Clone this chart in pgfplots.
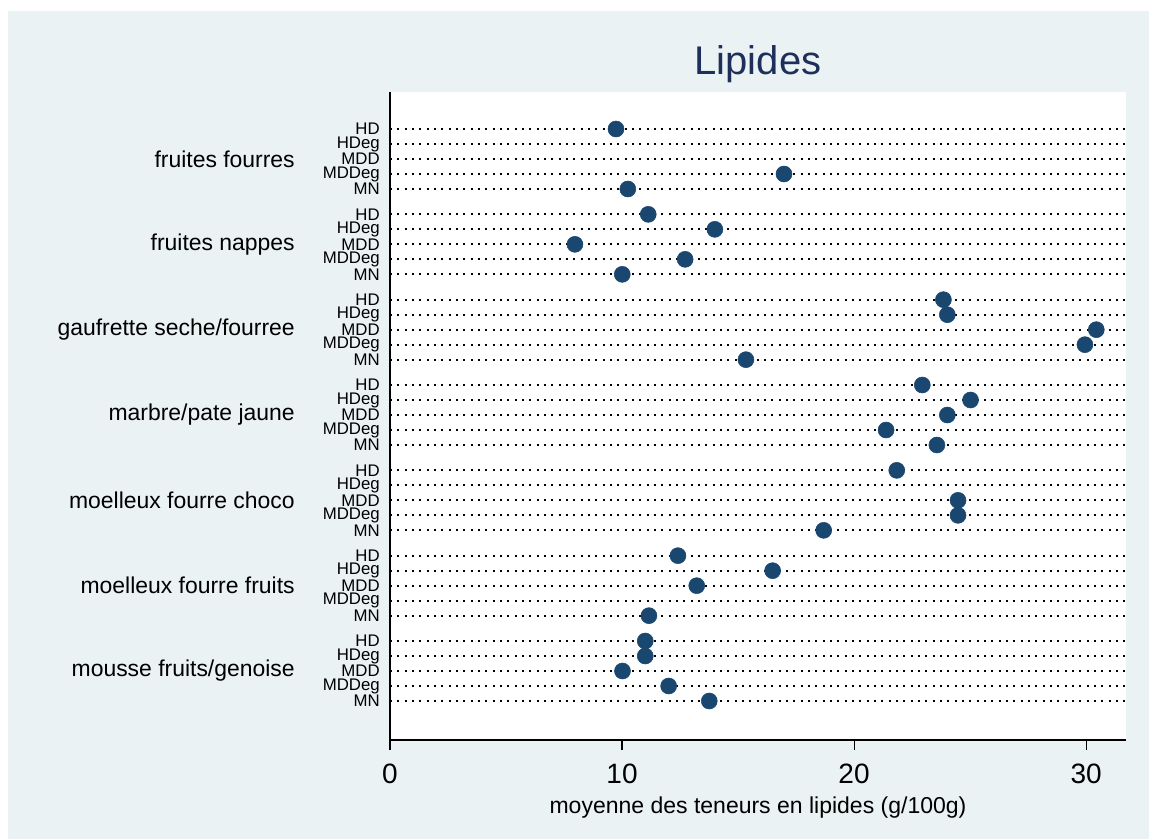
\documentclass[border=0pt]{standalone}
\usepackage{pgfplots}
\pgfplotsset{compat=1.18}
\usepackage{fontspec}
\setmainfont{Liberation Sans}
\definecolor{bgc}{HTML}{EAF2F3}
\definecolor{dotc}{HTML}{1A476F}
\definecolor{titc}{HTML}{1E2F5B}
\begin{document}
\begin{tikzpicture}
\fill[white] (-292.5pt,-74.25pt) rectangle (569.25pt,555pt);
\fill[bgc] (-286.5pt,-74.25pt) rectangle (569.25pt,546.75pt);
\begin{axis}[
  at={(0pt,0pt)}, anchor=south west,
  scale only axis, width=552pt, height=486pt,
  xmin=0, xmax=31.72, ymin=92, ymax=740, y dir=reverse,
  axis x line*=bottom, axis y line*=left,
  axis line style={-, black, line width=0.9pt},
  axis background/.style={fill=white},
  xtick={0,10,20,30}, tick align=outside, major tick length=7.5pt,
  xtick style={black, line width=0.8pt},
  xticklabel style={font=\fontsize{21}{22}\selectfont, yshift=-7pt},
  /pgf/number format/assume math mode=true,
  ytick={129,144,159,174,189,
         214.33,229.33,244.33,259.33,274.33,
         299.67,314.67,329.67,344.67,359.67,
         385,400,415,430,445,
         470.33,485.33,500.33,515.33,530.33,
         555.67,570.67,585.67,600.67,615.67,
         641,656,671,686,701},
  yticklabels={HD,HDeg,MDD,MDDeg,MN,HD,HDeg,MDD,MDDeg,MN,HD,HDeg,MDD,MDDeg,MN,
               HD,HDeg,MDD,MDDeg,MN,HD,HDeg,MDD,MDDeg,MN,HD,HDeg,MDD,MDDeg,MN,
               HD,HDeg,MDD,MDDeg,MN},
  ytick style={draw=none},
  yticklabel style={font=\fontsize{12.6}{13}\selectfont, inner xsep=0pt, inner ysep=0pt},
  ymajorgrids,
  major grid style={black, line width=1.5pt, dash pattern=on 1.5pt off 4pt},
  extra y ticks={159,244.33,329.67,415,500.33,585.67,671},
  extra y tick labels={fruites fourres,fruites nappes,gaufrette seche/fourree,marbre/pate jaune,moelleux fourre choco,moelleux fourre fruits,mousse fruits/genoise},
  extra y tick style={grid=none, ytick style={draw=none},
     yticklabel style={font=\fontsize{17.2}{18}\selectfont, xshift=-63.75pt}},
  title={Lipides},
  title style={at={(axis description cs:0.5,1)}, anchor=base, yshift=7pt,
     font=\fontsize{30}{32}\selectfont, text=titc},
  xlabel={moyenne des teneurs en lipides (g/100g)},
  xlabel style={at={(axis description cs:0.5,0)}, anchor=base, yshift=-55pt,
     font=\fontsize{17.25}{18}\selectfont},
  clip=false,
]
\addplot[only marks, mark=*, mark size=6pt, mark options={fill=dotc, draw=dotc}]
coordinates {
 (9.74,129) (16.98,174) (10.25,189)
 (11.13,214.33) (14.0,229.33) (7.97,244.33) (12.72,259.33) (10.01,274.33)
 (23.85,299.67) (24.02,314.67) (30.44,329.67) (29.95,344.67) (15.34,359.67)
 (22.94,385) (25.02,400) (24.02,415) (21.38,430) (23.57,445)
 (21.84,470.33) (24.48,500.33) (24.48,515.33) (18.69,530.33)
 (12.41,555.67) (16.49,570.67) (13.22,585.67) (11.16,615.67)
 (11.0,641) (11.0,656) (10.02,671) (12.01,686) (13.76,701)
};
\end{axis}
\end{tikzpicture}
\end{document}
